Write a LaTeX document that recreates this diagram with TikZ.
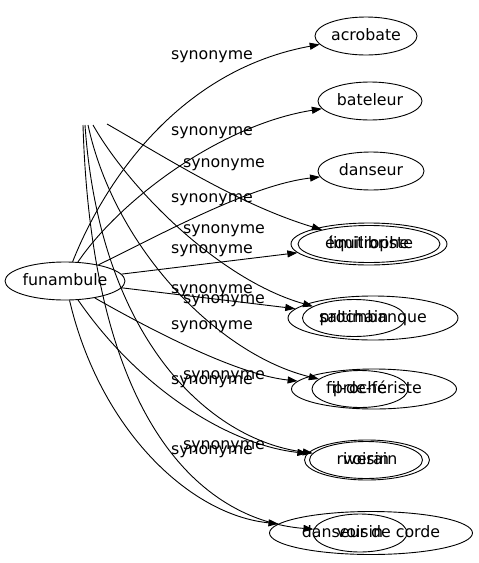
\documentclass[tikz,border=0pt]{standalone}
\usepackage{fontspec}
\setmainfont{DejaVu Sans}
\usetikzlibrary{shapes.geometric,arrows.meta}
\begin{document}
\begin{tikzpicture}[x=1pt,y=-1pt,
  word/.style={draw,ellipse,inner sep=0pt,line width=0.9pt,text height=11.5pt,text depth=3.5pt,font=\fontsize{15.8}{18}\selectfont},
  rel/.style={inner sep=0pt,text height=11.5pt,text depth=3.5pt,font=\fontsize{15.8}{18}\selectfont},
  link/.style={draw,line width=0.9pt,-{Triangle[length=10pt,width=7pt]}},
]
\useasboundingbox (0,0) rectangle (479,563);
% nodes
\node[word,minimum width=114pt,minimum height=38pt] (fun) at (65,281) {funambule};
\node[word,minimum width=102pt,minimum height=38pt] (acro) at (366,36) {acrobate};
\node[word,minimum width=104pt,minimum height=38pt] (bat) at (370,101) {bateleur};
\node[word,minimum width=106pt,minimum height=38pt] (dan) at (371,171) {danseur};
\node[word,minimum width=156pt,minimum height=42pt] (equi) at (369,244) {équilibriste};
\node[word,minimum width=142pt,minimum height=37pt] (lim) at (369,244) {limitrophe};
\node[word,minimum width=170pt,minimum height=44pt] (salt) at (373,318) {saltimbanque};
\node[word,minimum width=103pt,minimum height=37pt] (proch) at (354,318) {prochain};
\node[word,minimum width=165pt,minimum height=40pt] (fil) at (374,389) {fil-de-fériste};
\node[word,minimum width=96pt,minimum height=37pt] (proche) at (360,389) {proche};
\node[word,minimum width=125pt,minimum height=40pt] (riv) at (367,460) {riverain};
\node[word,minimum width=113pt,minimum height=37pt] (vois1) at (366,460) {voisin};
\node[word,minimum width=203pt,minimum height=43pt] (corde) at (371,533) {danseur de corde};
\node[word,minimum width=94pt,minimum height=38pt] (vois2) at (360,533) {voisin};
% free ends
\coordinate (c1) at (107,124);
\coordinate (c2) at (93,125);
\coordinate (c3) at (88,125);
\coordinate (c4) at (85,125);
\coordinate (c5) at (83,125);
% edges
\draw[link] (fun) .. controls (105,180) and (180,70) .. (acro);
\draw[link] (fun) .. controls (120,200) and (220,125) .. (bat);
\draw[link] (fun) .. controls (160,235) and (250,185) .. (dan);
\draw[link] (fun) -- (equi);
\draw[link] (fun) -- (salt);
\draw[link] (fun) .. controls (160,335) and (240,375) .. (fil);
\draw[link] (fun) .. controls (140,390) and (230,445) .. (riv);
\draw[link] (fun) .. controls (100,430) and (190,515) .. (corde);
\draw[link] (c1) .. controls (170,160) and (240,205) .. (lim);
\draw[link] (c2) .. controls (130,190) and (220,280) .. (proch);
\draw[link] (c3) .. controls (115,250) and (220,355) .. (proche);
\draw[link] (c4) .. controls (100,340) and (210,440) .. (vois1);
\draw[link] (c5) .. controls (92,420) and (200,520) .. (vois2);
% labels
\node[rel] (l1) at (212,55) {synonyme};
\node[rel] (l2) at (212,131) {synonyme};
\node[rel] (l3) at (224,163) {synonyme};
\node[rel] (l4) at (212,198) {synonyme};
\node[rel] (l5) at (224,229) {synonyme};
\node[rel] (l6) at (212,249) {synonyme};
\node[rel] (l7) at (212,289) {synonyme};
\node[rel] (l8) at (224,299) {synonyme};
\node[rel] (l9) at (212,325) {synonyme};
\node[rel] (l10) at (224,375) {synonyme};
\node[rel] (l11) at (212,380) {synonyme};
\node[rel] (l12) at (224,445) {synonyme};
\node[rel] (l13) at (212,450) {synonyme};
\end{tikzpicture}
\end{document}
